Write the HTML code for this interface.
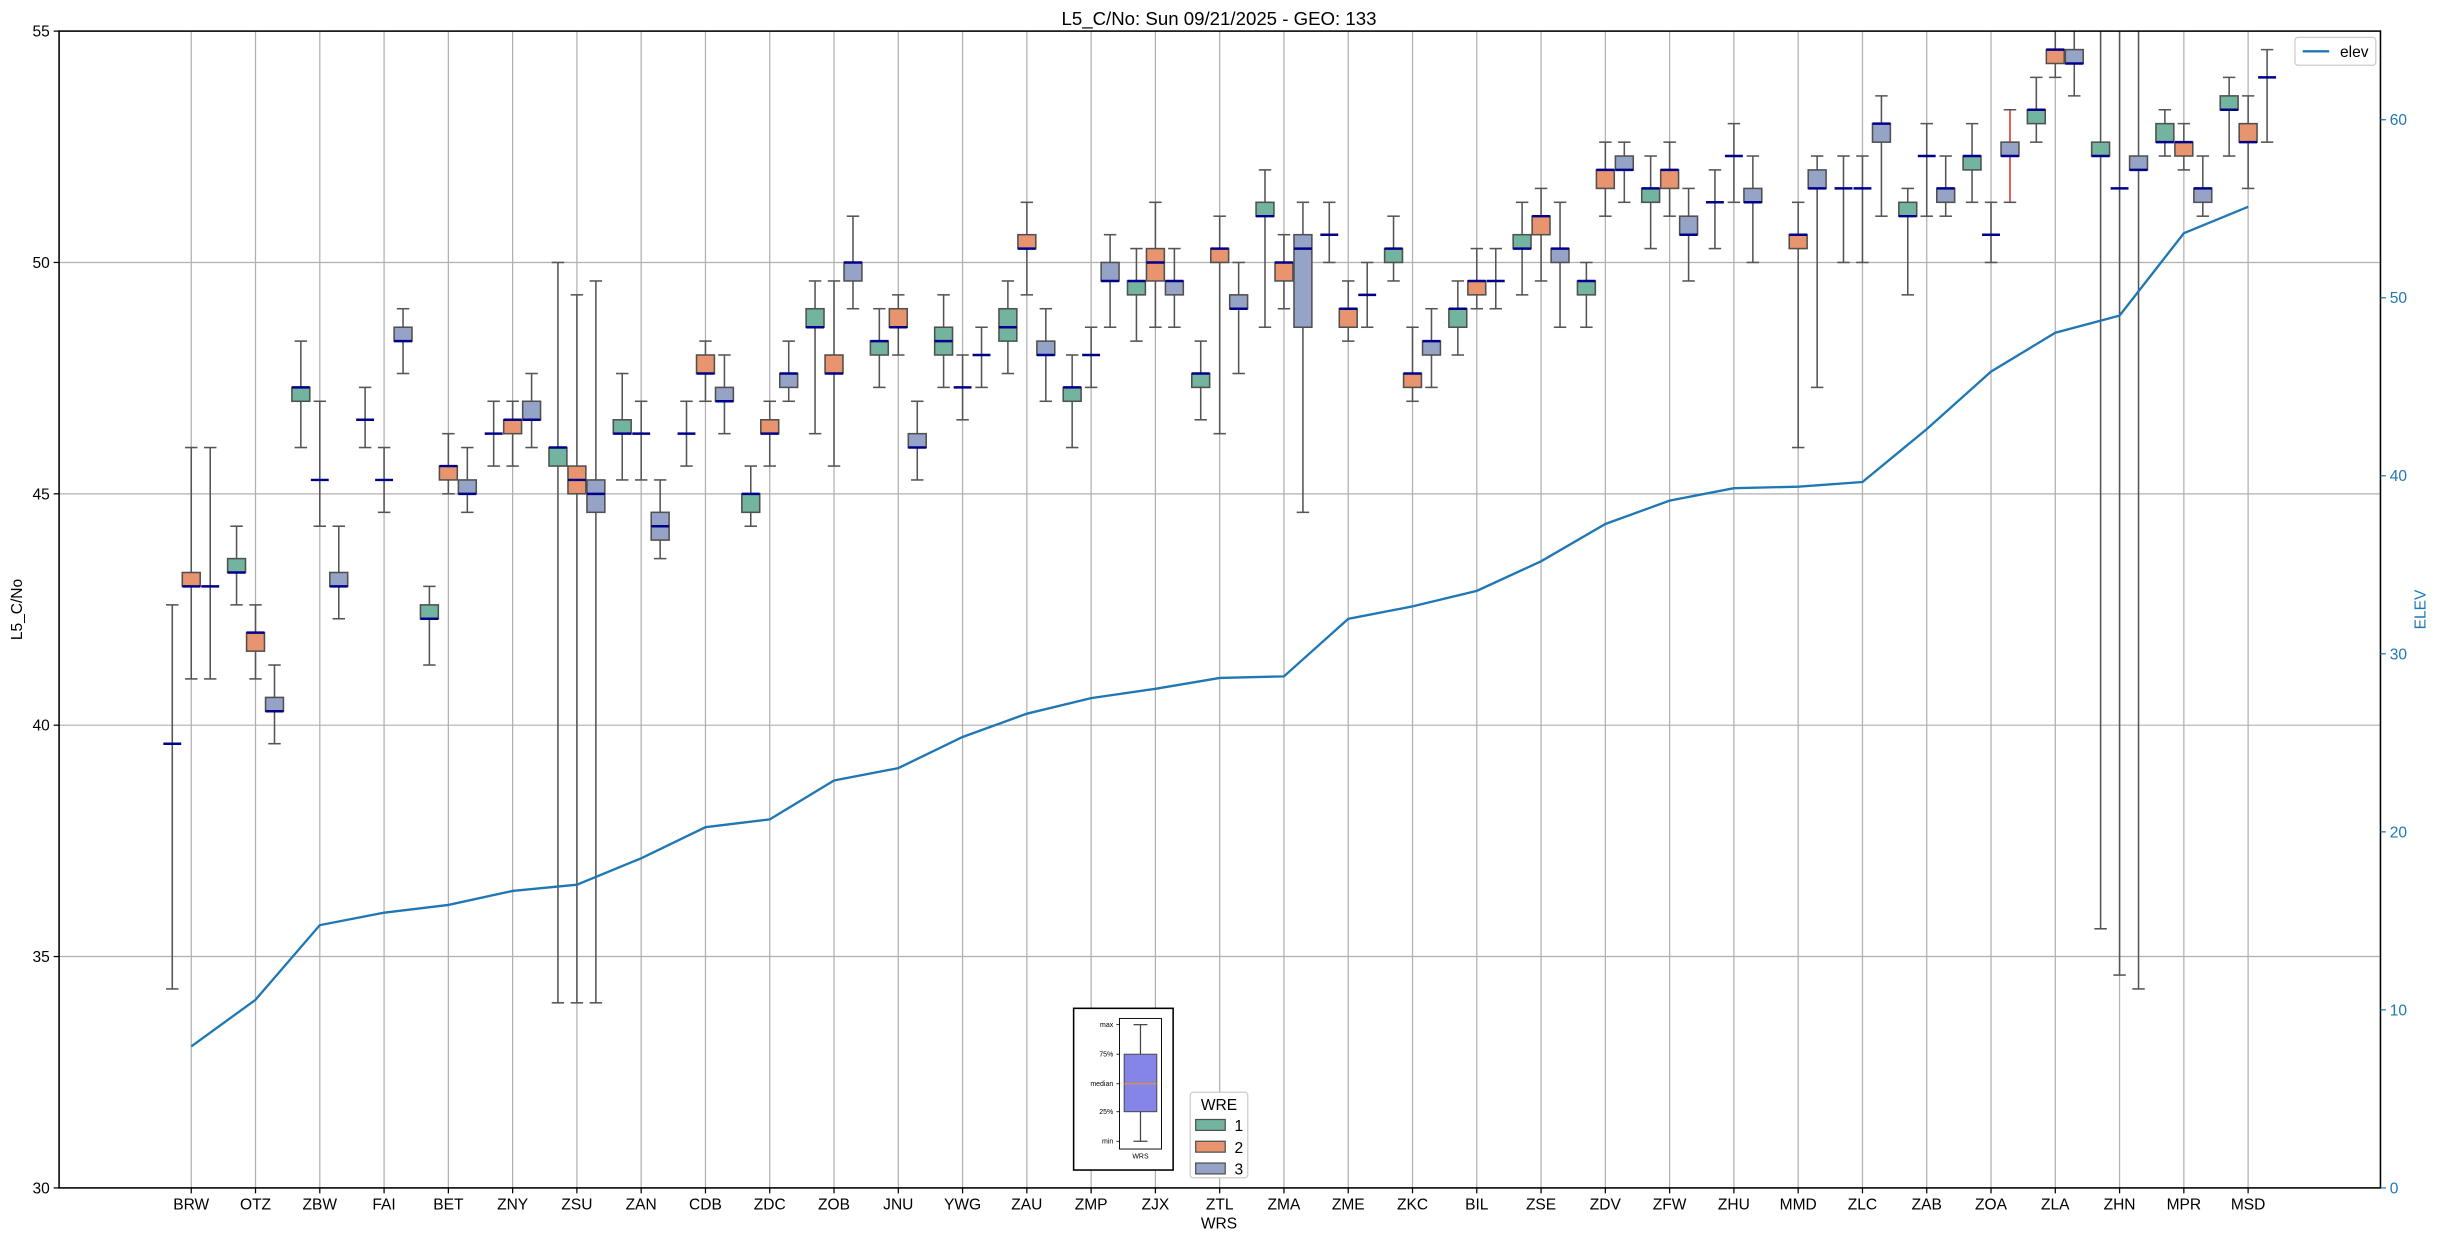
<!DOCTYPE html>
<html><head><meta charset="utf-8"><style>
html,body{margin:0;padding:0;background:#fff}
svg{display:block}
text{font-family:"Liberation Sans","DejaVu Sans",sans-serif}
</style></head><body>
<svg id="s" width="2438" height="1240" viewBox="0 0 1568 797.5" preserveAspectRatio="none" xmlns="http://www.w3.org/2000/svg">
<rect width="1568" height="797.5" fill="#fff"/>
<g id="grid"></g><g id="boxes"></g><g id="ax"></g>
</svg>
<script>
const NS="http://www.w3.org/2000/svg";
function el(p,t,a,txt){const e=document.createElementNS(NS,t);for(const k in a)e.setAttribute(k,a[k]);if(txt!==undefined)e.textContent=txt;p.appendChild(e);return e;}
const L=38,R=1531,T=20,B=764;
const Y=v=>B-(v-30)*(B-T)/25;
const YR=v=>B-v*(B-77)/60;
const grid=document.getElementById('grid'),bx=document.getElementById('boxes'),ax=document.getElementById('ax');
const names=["BRW","OTZ","ZBW","FAI","BET","ZNY","ZSU","ZAN","CDB","ZDC","ZOB","JNU","YWG","ZAU","ZMP","ZJX","ZTL","ZMA","ZME","ZKC","BIL","ZSE","ZDV","ZFW","ZHU","MMD","ZLC","ZAB","ZOA","ZLA","ZHN","MPR","MSD"];
const X=i=>123+i*41.34;
const D=[
[[34.3,39.6,39.6,39.6,42.6],[41,43,43.3,43,46],[41,43,43,43,46]],
[[42.6,43.3,43.6,43.3,44.3],[41,41.6,42,42,42.6],[39.6,40.3,40.6,40.3,41.3]],
[[46,47,47.3,47.3,48.3],[44.3,45.3,45.3,45.3,47],[42.3,43,43.3,43,44.3]],
[[46,46.6,46.6,46.6,47.3],[44.6,45.3,45.3,45.3,46],[47.6,48.3,48.6,48.3,49]],
[[41.3,42.3,42.6,42.3,43],[45,45.3,45.6,45.6,46.3],[44.6,45,45.3,45,46]],
[[45.6,46.3,46.3,46.3,47],[45.6,46.3,46.6,46.6,47],[46,46.6,47,46.6,47.6]],
[[34,45.6,46,46,50],[34,45,45.6,45.3,49.3],[34,44.6,45.3,45,49.6]],
[[45.3,46.3,46.6,46.3,47.6],[45.3,46.3,46.3,46.3,47],[43.6,44,44.6,44.3,45.3]],
[[45.6,46.3,46.3,46.3,47],[47,47.6,48,47.6,48.3],[46.3,47,47.3,47,48]],
[[44.3,44.6,45,45,45.6],[45.6,46.3,46.6,46.3,47],[47,47.3,47.6,47.6,48.3]],
[[46.3,48.6,49,48.6,49.6],[45.6,47.6,48,47.6,49.6],[49,49.6,50,50,51]],
[[47.3,48,48.3,48.3,49],[48,48.6,49,48.6,49.3],[45.3,46,46.3,46,47]],
[[47.3,48,48.6,48.3,49.3],[46.6,47.3,47.3,47.3,48],[47.3,48,48,48,48.6]],
[[47.6,48.3,49,48.6,49.6],[49.3,50.3,50.6,50.3,51.3],[47,48,48.3,48,49]],
[[46,47,47.3,47.3,48],[47.3,48,48,48,48.6],[48.6,49.6,50,49.6,50.6]],
[[48.3,49.3,49.6,49.6,50.3],[48.6,49.6,50.3,50,51.3],[48.6,49.3,49.6,49.6,50.3]],
[[46.6,47.3,47.6,47.6,48.3],[46.3,50,50.3,50.3,51],[47.6,49,49.3,49,50]],
[[48.6,51,51.3,51,52],[49,49.6,50,50,50.6],[44.6,48.6,50.6,50.3,51.3]],
[[50,50.6,50.6,50.6,51.3],[48.3,48.6,49,49,49.6],[48.6,49.3,49.3,49.3,50]],
[[49.6,50,50.3,50.3,51],[47,47.3,47.6,47.6,48.6],[47.3,48,48.3,48.3,49]],
[[48,48.6,49,49,49.6],[49,49.3,49.6,49.6,50.3],[49,49.6,49.6,49.6,50.3]],
[[49.3,50.3,50.6,50.3,51.3],[49.6,50.6,51,51,51.6],[48.6,50,50.3,50.3,51.3]],
[[48.6,49.3,49.6,49.6,50],[51,51.6,52,52,52.6],[51.3,52,52.3,52,52.6]],
[[50.3,51.3,51.6,51.6,52.3],[51,51.6,52,52,52.6],[49.6,50.6,51,50.6,51.6]],
[[50.3,51.3,51.3,51.3,52],[51.3,52.3,52.3,52.3,53],[50,51.3,51.6,51.3,52.3]],
[null,[46,50.3,50.6,50.6,51.3],[47.3,51.6,52,51.6,52.3]],
[[50,51.6,51.6,51.6,52.3],[50,51.6,51.6,51.6,52.3],[51,52.6,53,53,53.6]],
[[49.3,51,51.3,51,51.6],[51,52.3,52.3,52.3,53],[51,51.3,51.6,51.6,52.3]],
[[51.3,52,52.3,52.3,53],[50,50.6,50.6,50.6,51.3],[51.3,52.3,52.6,52.3,53.3,1]],
[[52.6,53,53.3,53.3,54],[54,54.3,54.6,54.6,56],[53.6,54.3,54.6,54.3,56]],
[[35.6,52.3,52.6,52.3,56],[34.6,51.6,51.6,51.6,56],[34.3,52,52.3,52,56]],
[[52.3,52.6,53,52.6,53.3],[52,52.3,52.6,52.6,53],[51,51.3,51.6,51.6,52.3]],
[[52.3,53.3,53.6,53.3,54],[51.6,52.6,53,52.6,53.6],[52.6,54,54,54,54.6]]
];
const cols=["#72b49f","#e8956f","#95a3c6"];
[35,40,45,50].forEach(v=>el(grid,'line',{x1:L,x2:R,y1:Y(v),y2:Y(v),stroke:'#b0b0b0','stroke-width':0.8}));
names.forEach((n,i)=>el(grid,'line',{x1:X(i),x2:X(i),y1:T,y2:B,stroke:'#b0b0b0','stroke-width':0.8}));
const cp=el(ax,'clipPath',{id:'c'});el(cp,'rect',{x:L,y:T,width:R-L,height:B-T});
bx.setAttribute('clip-path','url(#c)');
D.forEach((g,i)=>g.forEach((d,j)=>{
 if(!d)return;const x=X(i)+(j-1)*12.2;const w=11.5;
 const wc=d[5]?'#e03030':'#555';
 el(bx,'line',{x1:x,x2:x,y1:Y(d[0]),y2:Y(d[4]),stroke:wc,'stroke-width':1});
 el(bx,'line',{x1:x-4,x2:x+4,y1:Y(d[0]),y2:Y(d[0]),stroke:'#555','stroke-width':1});
 el(bx,'line',{x1:x-4,x2:x+4,y1:Y(d[4]),y2:Y(d[4]),stroke:'#555','stroke-width':1});
 if(d[2]>d[1])el(bx,'rect',{x:x-w/2,y:Y(d[2]),width:w,height:Y(d[1])-Y(d[2]),fill:cols[j],stroke:'#505050','stroke-width':1});
 el(bx,'line',{x1:x-w/2,x2:x+w/2,y1:Y(d[3]),y2:Y(d[3]),stroke:'#00008b','stroke-width':1.6});
}));
const E=[673,643,595,587,582,573,569,552,532,527,502,494,474,459,449,443,436,435,398,390,380,361,337,322,314,313,310,276,239,214,203,150,133];
el(bx,'polyline',{points:E.map((y,i)=>X(i)+','+y).join(' '),fill:'none',stroke:'#1f77b4','stroke-width':1.5});
el(ax,'rect',{x:L,y:T,width:R-L,height:B-T,fill:'none',stroke:'#000','stroke-width':1});
[30,35,40,45,50,55].forEach(v=>{el(ax,'line',{x1:L-3.5,x2:L,y1:Y(v),y2:Y(v),stroke:'#000','stroke-width':0.8});
 el(ax,'text',{x:L-6,y:Y(v)+3.5,'font-size':10,'text-anchor':'end'},v);});
[0,10,20,30,40,50,60].forEach(v=>{el(ax,'line',{x1:R,x2:R+3.5,y1:YR(v),y2:YR(v),stroke:'#1f77b4','stroke-width':0.8});
 el(ax,'text',{x:R+6,y:YR(v)+3.5,'font-size':10,fill:'#1f77b4'},v);});
names.forEach((n,i)=>{el(ax,'line',{x1:X(i),x2:X(i),y1:B,y2:B+3.5,stroke:'#000','stroke-width':0.8});
 el(ax,'text',{x:X(i),y:B+14,'font-size':10,'text-anchor':'middle'},n);});
el(ax,'text',{x:784,y:16,'font-size':12,'text-anchor':'middle'},'L5_C/No: Sun 09/21/2025 - GEO: 133');
el(ax,'text',{x:784,y:790,'font-size':10,'text-anchor':'middle'},'WRS');
el(ax,'text',{x:14,y:392,'font-size':10,'text-anchor':'middle',transform:'rotate(-90 14 392)'},'L5_C/No');
el(ax,'text',{x:1560,y:392,'font-size':10,'text-anchor':'middle',fill:'#1f77b4',transform:'rotate(-90 1560 392)'},'ELEV');
el(ax,'rect',{x:1476,y:24,width:52,height:18,rx:2,fill:'#fff',stroke:'#ccc','stroke-width':0.8});
el(ax,'line',{x1:1481,x2:1498,y1:33,y2:33,stroke:'#1f77b4','stroke-width':1.5});
el(ax,'text',{x:1505,y:36.5,'font-size':10},'elev');
el(ax,'rect',{x:690.5,y:648.5,width:64,height:104,fill:'#fff',stroke:'#000','stroke-width':1});
el(ax,'rect',{x:720,y:655,width:27,height:84,fill:'#fff',stroke:'#000','stroke-width':0.6});
el(ax,'line',{x1:733.5,x2:733.5,y1:659,y2:734,stroke:'#444','stroke-width':0.8});
el(ax,'line',{x1:729,x2:738,y1:659,y2:659,stroke:'#444','stroke-width':0.8});
el(ax,'line',{x1:729,x2:738,y1:734,y2:734,stroke:'#444','stroke-width':0.8});
el(ax,'rect',{x:723,y:678,width:21,height:37,fill:'#8585e8',stroke:'#444','stroke-width':0.6});
el(ax,'line',{x1:723,x2:744,y1:697,y2:697,stroke:'#ff9900','stroke-width':0.6});
[['max',659],['75%',678],['median',697],['25%',715],['min',734]].forEach(a=>{
 el(ax,'text',{x:716,y:a[1]+1.5,'font-size':4.5,'text-anchor':'end'},a[0]);
 el(ax,'line',{x1:718,x2:720,y1:a[1],y2:a[1],stroke:'#000','stroke-width':0.5});});
el(ax,'text',{x:733.5,y:745,'font-size':4.5,'text-anchor':'middle'},'WRS');
el(ax,'rect',{x:765.5,y:702.5,width:37,height:55,rx:2,fill:'#fff',stroke:'#ccc','stroke-width':0.8});
el(ax,'text',{x:784,y:714,'font-size':10,'text-anchor':'middle'},'WRE');
['1','2','3'].forEach((t,k)=>{el(ax,'rect',{x:769,y:720+k*14,width:19,height:7,fill:cols[k],stroke:'#505050','stroke-width':0.8});
 el(ax,'text',{x:794,y:727.5+k*14,'font-size':10},t);});
</script>
</body></html>
